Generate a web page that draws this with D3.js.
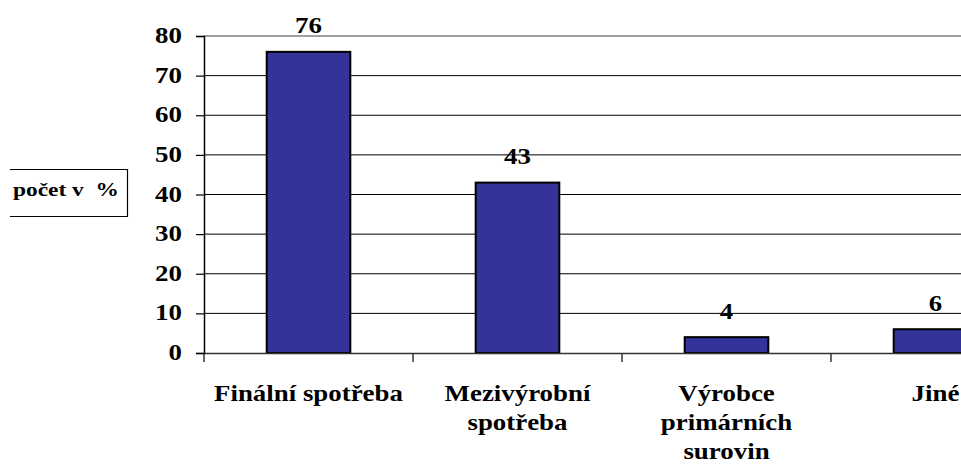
<!DOCTYPE html>
<html>
<head>
<meta charset="utf-8">
<script src="https://cdn.jsdelivr.net/npm/d3@7"></script>
</head>
<body style="margin:0">
<svg id="chart" width="961" height="464"></svg>
<script>
const categories = ["Finální spotřeba", "Mezivýrobní spotřeba", "Výrobce primárních surovin", "Jiné"];
const categoryLines = [["Finální spotřeba"], ["Mezivýrobní", "spotřeba"], ["Výrobce", "primárních", "surovin"], ["Jiné"]];
const values = [76, 43, 4, 6];
const yTicks = [0, 10, 20, 30, 40, 50, 60, 70, 80];
const yLabel = "počet v %";

(function () {
const FONT = "'Liberation Serif', monospace";
const svg = d3.select("#chart");
const W = 961;
const plotLeft = 204, plotTop = 36, plotBottom = 353, bandStep = 209;
const sx = 1.12; // horizontal stretch of the original picture's text

const x = d3.scaleBand().domain(categories)
  .range([plotLeft, plotLeft + bandStep * categories.length])
  .paddingInner(0.6).paddingOuter(0.3);
const y = d3.scaleLinear().domain([0, 80]).range([plotBottom, plotTop]);

function styleText(sel, size) {
  sel.attr("font-family", FONT).attr("font-weight", "bold")
    .attr("font-size", size).attr("fill", "#000");
  return sel;
}
function stretchAll(sel, stretch) {
  sel.each(function () {
    const len = this.getComputedTextLength();
    this.setAttribute("textLength", (len * stretch).toFixed(1));
    this.setAttribute("lengthAdjust", "spacingAndGlyphs");
  });
}

// gridlines
svg.append("g").selectAll("line").data(yTicks.filter(t => t > 0 && t < 80)).join("line")
  .attr("x1", plotLeft).attr("x2", W).attr("y1", d => y(d)).attr("y2", d => y(d))
  .attr("stroke", "#000").attr("stroke-width", 1);
// top border of plot area
svg.append("line").attr("x1", plotLeft).attr("x2", W).attr("y1", y(80)).attr("y2", y(80))
  .attr("stroke", "#808080").attr("stroke-width", 1.5);

// bars
svg.append("g").selectAll("rect").data(values).join("rect")
  .attr("x", (d, i) => x(categories[i]))
  .attr("y", d => y(d))
  .attr("width", x.bandwidth())
  .attr("height", d => y(0) - y(d))
  .attr("fill", "#333399").attr("stroke", "#000").attr("stroke-width", 2);

// x axis
const xAxis = d3.axisBottom(x).tickSize(0).tickFormat("");
const gx = svg.append("g").attr("transform", `translate(0,${plotBottom})`).call(xAxis);
gx.select(".domain").attr("stroke", "#333").attr("stroke-width", 1.5);
// category boundary ticks
const bounds = d3.range(categories.length + 1).map(i => plotLeft + i * x.step());
svg.append("g").selectAll("line").data(bounds).join("line")
  .attr("x1", d => d).attr("x2", d => d).attr("y1", plotBottom).attr("y2", plotBottom + 9)
  .attr("stroke", "#333").attr("stroke-width", 1.5);

// y axis
const yAxis = d3.axisLeft(y).tickValues(yTicks).tickSize(8).tickPadding(0).tickFormat("");
const gy = svg.append("g").attr("transform", `translate(${plotLeft},0)`).call(yAxis);
gy.select(".domain").attr("stroke", "#000").attr("stroke-width", 1.5);
gy.selectAll(".tick line").attr("stroke", "#000").attr("stroke-width", 1.2);

// y tick labels
const tl = styleText(svg.append("g").selectAll("text").data(yTicks).join("text"), 24)
  .attr("x", 182).attr("y", d => y(d) + 7)
  .attr("text-anchor", "end").text(d => d);
stretchAll(tl, sx);

// value labels
const vl = styleText(svg.append("g").selectAll("text").data(values).join("text"), 24)
  .attr("x", (d, i) => x(categories[i]) + x.bandwidth() / 2).attr("y", d => y(d) - 18.5)
  .attr("text-anchor", "middle").text(d => d);
stretchAll(vl, sx);

// category labels
const cl = svg.append("g").selectAll("g").data(categoryLines).join("g");
cl.each(function (lines, i) {
  const cx = x(categories[i]) + x.bandwidth() / 2;
  const t = styleText(d3.select(this).selectAll("text").data(lines).join("text"), 24)
    .attr("x", cx).attr("y", (l, j) => 400.5 + j * 29)
    .attr("text-anchor", "middle").text(l => l);
  stretchAll(t, sx);
});

// y label box
const box = svg.append("g");
box.append("path").attr("d", "M10,169.5 H127.5 V216.5 H10")
  .attr("fill", "none").attr("stroke", "#000").attr("stroke-width", 1.2);
const bt = styleText(box.append("text"), 18)
  .attr("x", 13).attr("y", 196)
  .text(yLabel.replace(" %", "\u00a0 %"));
stretchAll(bt, 1.3);
})();
</script>
</body>
</html>
